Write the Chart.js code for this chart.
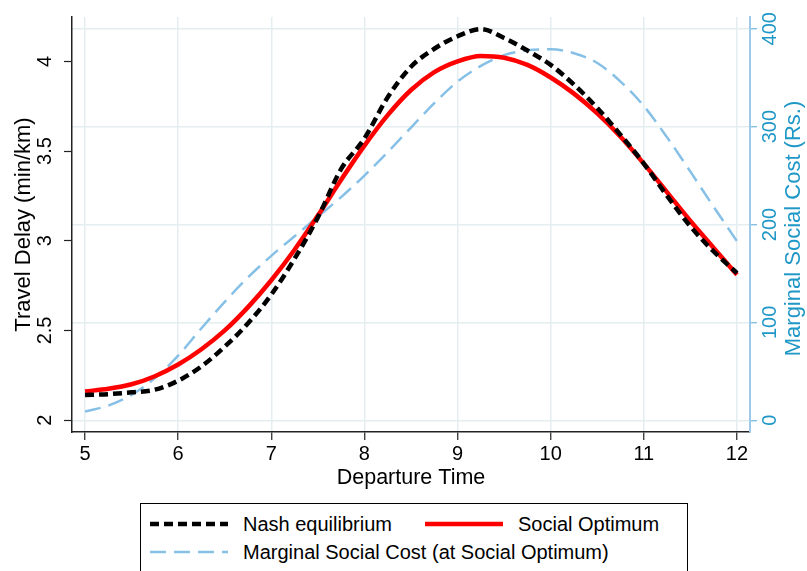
<!DOCTYPE html>
<html>
<head>
<meta charset="utf-8">
<script src="https://cdn.jsdelivr.net/npm/chart.js@4.4.0/dist/chart.umd.min.js"></script>
<style>
  html, body { margin: 0; padding: 0; background: #fff; }
  #wrap { position: relative; width: 807px; height: 571px; overflow: hidden; }
  #legend { position: absolute; left: 140px; top: 503px; width: 548px; height: 90px;
            border: 1px solid #000; box-sizing: border-box; background: #fff;
            font-family: 'Liberation Sans', Arial, sans-serif; font-size: 20px; color: #000; }
  .item { position: absolute; height: 24px; line-height: 24px; white-space: nowrap; }
  .item svg { position: absolute; left: 0; top: 7px; }
  .item span { position: absolute; left: 93px; top: 0; }
</style>
</head>
<body>
<div id="wrap">
  <canvas id="chart" width="807" height="571"></canvas>
  <div id="legend"></div>
</div>
<script>
// 출발 시각 (시)
const departureTimes = [5, 5.25, 5.5, 5.75, 6, 6.25, 6.5, 6.75, 7, 7.25, 7.5, 7.75, 8, 8.25, 8.5, 8.75,
  9, 9.25, 9.5, 9.75, 10, 10.25, 10.5, 10.75, 11, 11.25, 11.5, 11.75, 12];

// Travel Delay (min/km) - 왼쪽 축
const nashDelay = [2.14, 2.145, 2.155, 2.17, 2.22, 2.30, 2.41, 2.54, 2.70, 2.90, 3.13, 3.40, 3.57, 3.80, 3.97, 4.07,
  4.14, 4.18, 4.13, 4.06, 3.98, 3.87, 3.74, 3.59, 3.43, 3.25, 3.08, 2.94, 2.82];
const optimumDelay = [2.16, 2.175, 2.20, 2.245, 2.31, 2.395, 2.50, 2.63, 2.78, 2.95, 3.14, 3.34, 3.53, 3.70, 3.84, 3.94,
  4.00, 4.03, 4.02, 3.98, 3.91, 3.82, 3.71, 3.58, 3.43, 3.27, 3.11, 2.96, 2.81];

// Marginal Social Cost (Rs.) - 오른쪽 축
const marginalCost = [9, 15, 26, 43, 66, 94, 121, 146, 168, 188, 208, 228, 250, 274, 299, 324,
  346, 362, 373, 378, 379, 375, 365, 346, 321, 289, 254, 218, 183];

// 눈금
const xTicks = [5, 6, 7, 8, 9, 10, 11, 12];
const leftTicks = [2, 2.5, 3, 3.5, 4];
const rightTicks = [0, 100, 200, 300, 400];

const seriesNames = ['Nash equilibrium', 'Social Optimum', 'Marginal Social Cost (at Social Optimum)'];

const FONT = "'Liberation Sans', Arial, sans-serif";
const BLUE_TEXT = '#1f97c7';
const GRID = '#e4eef0';

function toPoints(values) {
  return departureTimes.map((t, i) => ({ x: t, y: values[i] }));
}

// 오른쪽 축 제목 (아래에서 위로 읽힘)
const rightTitle = {
  id: 'rightTitle',
  afterDraw(chart) {
    const s = chart.scales.y1;
    const ctx = chart.ctx;
    ctx.save();
    ctx.translate(s.right - 13, (chart.chartArea.top + chart.chartArea.bottom) / 2 + 4);
    ctx.rotate(-Math.PI / 2);
    ctx.font = '22px ' + FONT;
    ctx.fillStyle = BLUE_TEXT;
    ctx.textAlign = 'center';
    ctx.textBaseline = 'middle';
    ctx.fillText('Marginal Social Cost (Rs.)', 0, 0);
    ctx.restore();
  }
};

const datasets = [
  {
    label: seriesNames[0],
    data: toPoints(nashDelay),
    yAxisID: 'y',
    borderColor: '#000000',
    borderWidth: 4.5,
    borderDash: [9, 5],
    borderCapStyle: 'butt'
  },
  {
    label: seriesNames[1],
    data: toPoints(optimumDelay),
    yAxisID: 'y',
    borderColor: '#ff0000',
    borderWidth: 4.5
  },
  {
    label: seriesNames[2],
    data: toPoints(marginalCost),
    yAxisID: 'y1',
    borderColor: '#87c0e6',
    borderWidth: 2.5,
    borderDash: [16, 8]
  }
];

datasets.forEach(d => {
  d.pointRadius = 0;
  d.fill = false;
  d.cubicInterpolationMode = 'monotone';
});

new Chart(document.getElementById('chart'), {
  type: 'line',
  data: { datasets: datasets },
  options: {
    responsive: false,
    animation: false,
    layout: { padding: { top: 10, bottom: 79, left: 0, right: 0 } },
    plugins: { legend: { display: false }, tooltip: { enabled: false } },
    scales: {
      x: {
        type: 'linear',
        min: 4.86,
        max: 12.14,
        afterBuildTicks: s => { s.ticks = xTicks.map(v => ({ value: v })); },
        afterFit: s => { s.height = 60; },
        grid: { color: GRID, lineWidth: 1.5, tickColor: '#222', tickLength: 8, tickWidth: 1.2 },
        border: { color: '#222', width: 1.5 },
        ticks: { color: '#000', font: { family: FONT, size: 20 }, padding: 2, maxRotation: 0,
                 callback: v => String(v) },
        title: { display: true, text: 'Departure Time', color: '#000',
                 font: { family: FONT, size: 21.5 }, padding: { top: 0, bottom: 1 } }
      },
      y: {
        position: 'left',
        min: 1.934,
        max: 4.247,
        afterBuildTicks: s => { s.ticks = leftTicks.map(v => ({ value: v })); },
        afterFit: s => { s.width = 72; },
        grid: { drawOnChartArea: false, tickColor: '#222', tickLength: 8, tickWidth: 1.2 },
        border: { color: '#222', width: 1.5 },
        ticks: { color: '#000', font: { family: FONT, size: 20 }, padding: 5,
                 minRotation: 90, maxRotation: 90, crossAlign: 'center',
                 callback: v => String(v) },
        title: { display: true, text: 'Travel Delay (min/km)', color: '#000',
                 font: { family: FONT, size: 22 }, padding: { top: 11, bottom: 0 } }
      },
      y1: {
        position: 'right',
        min: -12,
        max: 412,
        afterBuildTicks: s => { s.ticks = rightTicks.map(v => ({ value: v })); },
        afterFit: s => { s.width = 57; },
        grid: { color: GRID, lineWidth: 1.5, tickColor: '#6fb6e0', tickLength: 7, tickWidth: 1.2 },
        border: { color: '#9ccae8', width: 2 },
        ticks: { color: BLUE_TEXT, font: { family: FONT, size: 20 }, padding: -3,
                 minRotation: 90, maxRotation: 90, crossAlign: 'center',
                 callback: v => String(v) }
      }
    }
  },
  plugins: [rightTitle]
});

// 범례 (두 칸 배치)
const legendBox = document.getElementById('legend');
const legendPos = [[9, 8], [284, 8], [9, 36]];
datasets.forEach((d, i) => {
  const item = document.createElement('div');
  item.className = 'item';
  item.style.left = legendPos[i][0] + 'px';
  item.style.top = legendPos[i][1] + 'px';
  const dash = d.borderDash ? d.borderDash.join(' ') : 'none';
  item.innerHTML = `
    <svg width="80" height="10"><line x1="0" y1="5" x2="78" y2="5" stroke="${d.borderColor}"
      stroke-width="${d.borderWidth}" stroke-dasharray="${dash}"/></svg>
    <span>${d.label}</span>`;
  legendBox.appendChild(item);
});
</script>
</body>
</html>
